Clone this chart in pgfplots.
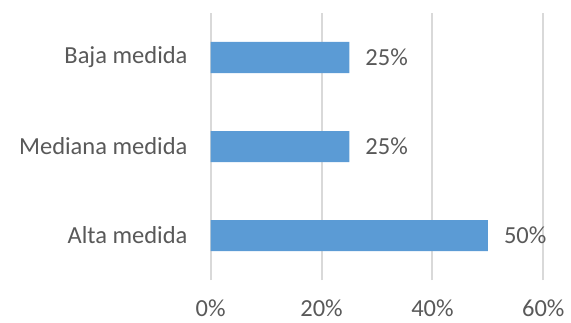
\documentclass[border=0pt]{standalone}
\usepackage{pgfplots}
\pgfplotsset{compat=1.18}
\usepackage{fontspec}
\setmainfont{Carlito}
\definecolor{barblue}{HTML}{5B9BD5}
\definecolor{txt}{HTML}{595959}
\definecolor{gridc}{HTML}{D9D9D9}
\begin{document}
\begin{tikzpicture}[x=1pt,y=1pt]
\path[use as bounding box] (-210.7,-42) rectangle (360.3,280);
\begin{axis}[
  at={(0,0)}, anchor=south west,
  scale only axis,
  width=332.6pt, height=267pt,
  xbar, bar width=31pt,
  xmin=0, xmax=60, ymin=-0.5, ymax=2.5,
  ytick={0,1,2},
  yticklabels={Alta medida, Mediana medida, Baja medida},
  xtick={0,20,40,60},
  xticklabels={0\%,20\%,40\%,60\%},
  xmajorgrids, ymajorgrids=false,
  major grid style={draw=gridc, line width=2pt},
  axis line style={draw=none},
  major tick length=0pt,
  tick style={draw=none},
  ticklabel style={font=\fontsize{24.5}{29}\selectfont, text=txt},
  xticklabel style={anchor=north, inner sep=0pt, yshift=-20pt},
  yticklabel style={anchor=east, inner sep=0pt, xshift=-23pt},
  nodes near coords={\pgfmathprintnumber[assume math mode=true]{\pgfplotspointmeta}\%},
  nodes near coords style={anchor=west, inner sep=0pt, xshift=16pt,
    font=\fontsize{24.5}{29}\selectfont, text=txt},
  clip=false,
]
\addplot[fill=barblue, draw=none] coordinates {(50,0) (25,1) (25,2)};
\end{axis}
\end{tikzpicture}
\end{document}
